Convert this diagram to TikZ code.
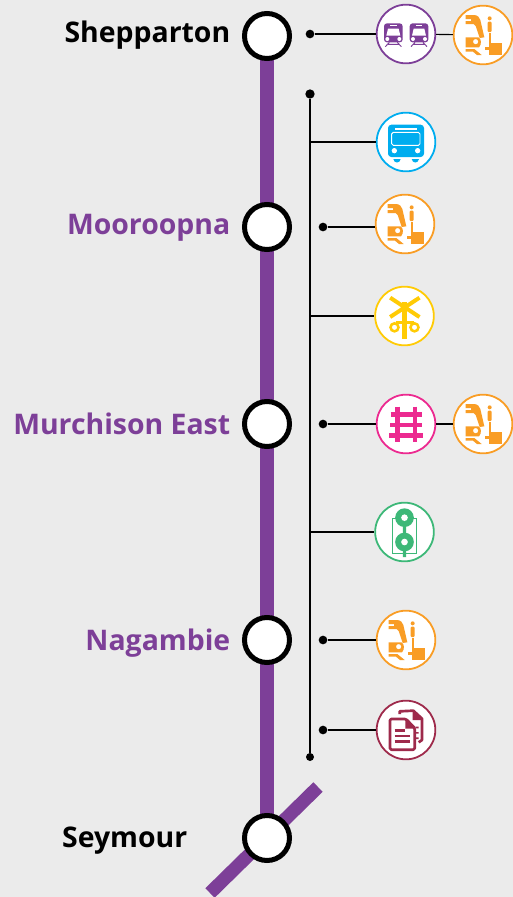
\documentclass[tikz,border=0pt]{standalone}
\usepackage{fontspec}
\usetikzlibrary{backgrounds}
\setmainfont{Open Sans}
\definecolor{bgc}{HTML}{EBEBEB}
\definecolor{lineP}{HTML}{7D3F98}
\definecolor{orangeC}{HTML}{F99D25}
\definecolor{blueC}{HTML}{00ADEF}
\definecolor{yellowC}{HTML}{FFCB05}
\definecolor{pinkC}{HTML}{EC2A90}
\definecolor{greenC}{HTML}{3DB878}
\definecolor{maroonC}{HTML}{9E2A4B}
\tikzset{
 station/.style={circle,draw=black,fill=white,line width=3.75pt,minimum size=33.75pt,inner sep=0pt,outer sep=0pt},
 iconring/.style={circle,draw=#1,fill=white,line width=1.35pt,minimum size=44pt,inner sep=0pt},
 blacklabel/.style={font=\bfseries\fontsize{21.3}{24}\selectfont,text=black,inner sep=0pt},
 purplelabel/.style={font=\bfseries\fontsize{21.3}{24}\selectfont,text=lineP,inner sep=0pt},
 dotnode/.style={circle,fill=black,inner sep=0pt,minimum size=#1},
 thin line/.style={draw=black,line width=0.85pt},
 main line/.style={draw=lineP,line width=10pt},
 glyph/.style={x=.25pt,y=-.25pt},
 forkicon/.pic={\begin{scope}[glyph,shift={(-370,-105)}]
  \fill[orangeC] (318,45) -- (344,45) .. controls (354,46) and (360,52) .. (362,60) -- (374,112) -- (360,114) -- (348,78) .. controls (345,72) and (341,72) .. (336,72) -- (318,72) -- (318,63) -- (334,63) -- (334,57) -- (318,57) -- cycle;
  \fill[orangeC,even odd rule] (318,112) -- (356,112) .. controls (366,116) and (366,134) .. (358,142) -- (318,142) -- cycle (348,125) circle[radius=8];
  \fill[orangeC] (318,147) -- (344,147) -- (366,165) -- (352,165) -- (340,155) -- (318,155) -- cycle;
  \fill[orangeC] (390,55) circle[radius=6];
  \fill[orangeC,rounded corners=.8pt] (384,65) rectangle (396,96);
  \fill[orangeC] (387,98) rectangle (393,128);
  \fill[orangeC] (388,128) rectangle (428,165);
  \fill[orangeC] (375,140) rectangle (390,150);
 \end{scope}},
 traintwo/.pic={\begin{scope}[glyph,shift={(-138,-102)}]
  \foreach \dx in {0,77}{\begin{scope}[xshift=\dx*.25pt]
   \fill[lineP,rounded corners=2.2pt] (72,127) -- (72,70) -- (128,70) -- (128,127) -- cycle;
   \fill[white] (84,86) -- (116,86) -- (121,107) -- (79,107) -- cycle;
   \fill[white] (90,75) rectangle (110,79);
   \fill[white] (82,117) circle[radius=6];
   \fill[white] (118,117) circle[radius=6];
   \draw[lineP,line width=.7pt] (84,133) -- (116,133) (88,127) -- (76,140) (112,127) -- (124,140);
  \end{scope}}
 \end{scope}},
 busicon/.pic={\begin{scope}[glyph,shift={(-138,-427)}]
  \fill[blueC,rounded corners=2.5pt] (84,375) rectangle (192,472);
  \fill[white] (105,384) rectangle (172,391);
  \draw[white,line width=.7pt,rounded corners=1.2pt] (95,398) rectangle (180,437);
  \fill[white] (103,453) circle[radius=8];
  \fill[white] (173,453) circle[radius=8];
  \fill[blueC] (100,478) -- (122,478) .. controls (120,492) and (102,492) .. (100,478) -- cycle;
  \fill[blueC] (155,478) -- (177,478) .. controls (175,492) and (157,492) .. (155,478) -- cycle;
 \end{scope}},
 crossicon/.pic={\begin{scope}[glyph,shift={(-133,-107)}]
  \draw[yellowC,line width=3pt] (90,52) -- (178,110) (178,52) -- (90,110);
  \draw[yellowC,line width=3.6pt] (133,65) -- (133,176);
  \draw[yellowC,line width=1.9pt] (103,141) circle[radius=12] (163,141) circle[radius=12];
  \draw[yellowC,line width=1.9pt] (106,127) -- (160,127);
 \end{scope}},
 trackicon/.pic={\begin{scope}[glyph,shift={(-138,-432)}]
  \draw[pinkC,line width=3.5pt] (113,380) -- (113,485) (165,380) -- (165,485);
  \draw[pinkC,line width=3.5pt] (92,403) -- (185,403) (90,435) -- (187,435) (88,467) -- (189,467);
 \end{scope}},
 signalicon/.pic={\begin{scope}[glyph,shift={(-133,-110)}]
  \draw[greenC,line width=.6pt] (98,68) rectangle (168,175);
  \fill[greenC] (128,80) rectangle (138,130) (128,150) rectangle (138,185);
  \fill[greenC] (133,67) circle[radius=28] (133,140) circle[radius=28];
  \fill[white] (133,67) circle[radius=10] (133,140) circle[radius=10];
 \end{scope}},
 docicon/.pic={\begin{scope}[glyph,shift={(-122,-118)}]
  \draw[maroonC,line width=2pt,line join=round] (103,70) -- (103,62) -- (144,60) -- (170,84) -- (170,148) -- (160,155);
  \fill[maroonC] (142,60) -- (170,88) -- (142,88) -- cycle;
  \fill[maroonC] (150,108) rectangle (160,113) (150,124) rectangle (160,129) (150,140) rectangle (160,145);
  \draw[maroonC,fill=white,line width=2pt,line join=round,rounded corners=1pt] (74,85) -- (122,85) -- (148,112) -- (148,177) -- (74,177) -- cycle;
  \fill[maroonC] (120,85) -- (148,114) -- (120,114) -- cycle;
  \draw[maroonC,line width=1.9pt] (88,120) -- (120,120) (88,136) -- (135,136) (88,152) -- (135,152);
 \end{scope}}
}
\begin{document}
\begin{tikzpicture}[x=.75pt,y=-.75pt]
\useasboundingbox (0,0) rectangle (513,897);
% stations
\node[station] (shep) at (267,36) {};
\node[station] (moor) at (267,227) {};
\node[station] (murc) at (267,424) {};
\node[station] (naga) at (267,640) {};
\node[station] (seym) at (267,838) {};
\coordinate (diagA) at (318,787);
\coordinate (diagB) at (210,893);
\begin{scope}[on background layer]
\fill[bgc] (0,0) rectangle (513,897);
\draw[main line] (diagA) -- (diagB);
\draw[main line] (shep) -- (moor);
\draw[main line] (moor) -- (murc);
\draw[main line] (murc) -- (naga);
\draw[main line] (naga) -- (seym);
\end{scope}
% labels
\node[blacklabel,anchor=base east] (lshep) at (230.5,42) {Shepparton};
\node[purplelabel,anchor=base east] (lmoor) at (230.5,234) {Mooroopna};
\node[purplelabel,anchor=base east] (lmurc) at (230.5,434) {Murchison East};
\node[purplelabel,anchor=base east] (lnaga) at (230.5,650) {Nagambie};
\node[blacklabel,anchor=base east] (lseym) at (187.5,847) {Seymour};
% icon rings
\node[iconring=lineP] (i1) at (406,34) {};
\node[iconring=orangeC] (i2) at (483,35) {};
\node[iconring=blueC] (i3) at (406,142) {};
\node[iconring=orangeC] (i4) at (405,224) {};
\node[iconring=yellowC] (i5) at (404.5,316) {};
\node[iconring=pinkC] (i6) at (406,424) {};
\node[iconring=orangeC] (i7) at (483,424) {};
\node[iconring=greenC] (i8) at (404.5,532) {};
\node[iconring=orangeC] (i9) at (406,640) {};
\node[iconring=maroonC] (i10) at (406,730) {};
% glyphs
\pic at (i1) {traintwo};
\pic at (i2) {forkicon};
\pic at (i3) {busicon};
\pic at (i4) {forkicon};
\pic at (i5) {crossicon};
\pic at (i6) {trackicon};
\pic at (i7) {forkicon};
\pic at (i8) {signalicon};
\pic at (i9) {forkicon};
\pic at (i10) {docicon};
% bracket
\node[dotnode=7pt] (top) at (310,94) {};
\node[dotnode=6pt] (bot) at (310,757) {};
\draw[thin line] (top) -- (bot);
\coordinate (j3) at (310,142);
\coordinate (j5) at (310,316);
\coordinate (j8) at (310,532);
\draw[thin line] (j3) -- (i3);
\draw[thin line] (j5) -- (i5);
\draw[thin line] (j8) -- (i8);
% stubs
\node[dotnode=6.5pt] (d1) at (310,34) {};
\node[dotnode=6.5pt] (d4) at (323,227) {};
\node[dotnode=6.5pt] (d6) at (323,424) {};
\node[dotnode=6.5pt] (d9) at (323,640) {};
\node[dotnode=6.5pt] (d10) at (323,730) {};
\draw[thin line] (d1) -- (i1);
\draw[thin line] (i1) -- (i2);
\draw[thin line] (d4) -- (d4 -| i4.west);
\draw[thin line] (d6) -- (i6);
\draw[thin line] (i6) -- (i7);
\draw[thin line] (d9) -- (i9);
\draw[thin line] (d10) -- (i10);
\end{tikzpicture}
\end{document}
